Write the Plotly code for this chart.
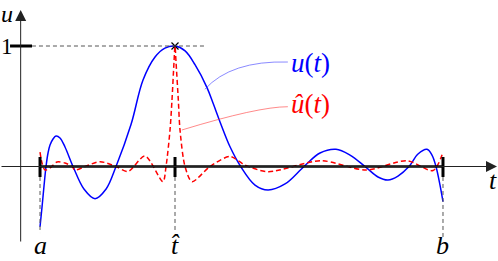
import plotly.graph_objects as go

# ---- data (t normalised so that a = 0, b = 1; u(t_hat) = 1) ----
A = 0.0
B = 1.0
T_HAT = 0.335
U_ONE = 1.0

t_u = [0.0, 0.005, 0.0099, 0.0149, 0.0199, 0.0248, 0.0323, 0.0397, 0.0496, 0.062,
       0.0819, 0.109, 0.1365, 0.164, 0.1886, 0.226, 0.2556, 0.2854, 0.310, 0.335,
       0.360, 0.3846, 0.4144, 0.43, 0.4467, 0.4715, 0.498, 0.5335, 0.5658, 0.608, 0.655,
       0.6948, 0.7345, 0.7692, 0.8065, 0.8387, 0.8635, 0.8883, 0.9156, 0.938, 0.9603,
       0.9727, 0.9826, 0.9926, 1.0]
u_vals = [-0.500, -0.336, -0.162, 0.0, 0.112, 0.178, 0.228, 0.253, 0.237, 0.162,
          0.0, -0.187, -0.267, -0.187, 0.0, 0.35, 0.718, 0.909, 0.983, 1.0,
          0.959, 0.845, 0.655, 0.52, 0.37, 0.164, 0.0, -0.154, -0.195, -0.145, 0.0,
          0.112, 0.143, 0.095, 0.0, -0.087, -0.112, -0.079, 0.0, 0.104, 0.143,
          0.095, 0.0, -0.154, -0.292]

t_uh = [0.0, 0.005, 0.0124, 0.0248, 0.0422, 0.062, 0.0794, 0.0868, 0.1117, 0.1489,
        0.1886, 0.2184, 0.2605, 0.305, 0.3127, 0.3226, 0.3275, 0.3325, 0.335, 0.3375,
        0.3432, 0.3474, 0.3598, 0.3772, 0.4218, 0.4715, 0.5087, 0.5658, 0.6973, 0.8089,
        0.9107, 0.9752, 1.0]
uh_vals = [0.120, 0.029, -0.029, -0.012, 0.037, 0.029, 0.0, -0.029, 0.0, 0.040,
           0.0, -0.041, 0.087, -0.126, 0.0, 0.303, 0.552, 0.867, 1.0, 0.867,
           0.552, 0.303, 0.0, -0.126, 0.0, 0.083, 0.012, -0.043, 0.048, -0.029,
           0.048, -0.033, 0.118]

W, H = 498, 261
X0, X1 = -0.0993, 1.1365
Y0, Y1 = -0.7842, 1.3817

SERIF = "Liberation Serif"
fig = go.Figure()

shapes = []
shapes.append(dict(type="line", x0=A, x1=B, y0=0, y1=0, line=dict(color="black", width=2.5)))
for tx, yb in [(A, -0.552), (T_HAT, -0.552), (B, -0.585)]:
    shapes.append(dict(type="line", x0=tx, x1=tx, y0=-0.087, y1=yb,
                       line=dict(color="#555", width=1, dash="4px,3px")))
    shapes.append(dict(type="line", x0=tx, x1=tx, y0=0.079, y1=-0.087,
                       line=dict(color="black", width=3)))
shapes.append(dict(type="line", x0=-0.02, x1=0.414, y0=U_ONE, y1=U_ONE,
                   line=dict(color="#555", width=1, dash="4px,3px")))
shapes.append(dict(type="line", x0=-0.0744, x1=-0.0199, y0=U_ONE, y1=U_ONE,
                   line=dict(color="black", width=3)))
shapes.append(dict(type="path", path="M 0.409,0.641 Q 0.474,0.880 0.615,0.867",
                   line=dict(color="rgba(60,60,255,0.6)", width=1)))
shapes.append(dict(type="path", path="M 0.352,0.303 Q 0.541,0.496 0.615,0.496",
                   line=dict(color="rgba(255,60,60,0.6)", width=1)))

fig.add_trace(go.Scatter(x=t_u, y=u_vals, mode="lines",
                         line=dict(color="#0000ff", width=1.5, shape="spline", smoothing=1.0),
                         hoverinfo="skip"))
fig.add_trace(go.Scatter(x=t_uh, y=uh_vals, mode="lines",
                         line=dict(color="#ff0000", width=1.5, dash="5px,3px",
                                   shape="spline", smoothing=0.8),
                         hoverinfo="skip"))
fig.add_trace(go.Scatter(x=[T_HAT], y=[U_ONE], mode="markers",
                         marker=dict(symbol="x-thin", size=7, line=dict(color="black", width=1.2)),
                         hoverinfo="skip"))

ann = []
ann.append(dict(x=1.134, y=0, ax=X0, ay=0, xref="x", yref="y", axref="x", ayref="y",
                showarrow=True, arrowhead=2, arrowsize=2.2, arrowwidth=1, arrowcolor="#222", text=""))
ann.append(dict(x=-0.048, y=1.299, ax=-0.048, ay=-0.635, xref="x", yref="y", axref="x", ayref="y",
                showarrow=True, arrowhead=2, arrowsize=2.2, arrowwidth=1, arrowcolor="#222", text=""))

def lab(x, y, s, color="black", size=26, xanchor="center", yanchor="middle"):
    ann.append(dict(x=x, y=y, xref="x", yref="y", text=s, showarrow=False,
                    xanchor=xanchor, yanchor=yanchor, borderpad=0,
                    font=dict(family=SERIF, size=size, color=color)))

lab(-0.0993, Y1, "<i>u</i>", xanchor="left", yanchor="top", size=24)
lab(X0, U_ONE, "1", xanchor="left", size=23)
lab(X1, -0.12, "<i>t</i>", xanchor="right")
lab(A, Y0, "<i>a</i>", yanchor="bottom")
lab(T_HAT, Y0, "<i>t&#770;</i>", yanchor="bottom")
lab(B, Y0, "<i>b</i>", yanchor="bottom")
lab(0.620, 0.855, "<i>u</i>(<i>t</i>)", color="#0000ff", xanchor="left", size=27)
lab(0.620, 0.515, "<i>&#251;</i>(<i>t</i>)", color="#ff0000", xanchor="left", size=27)

fig.update_layout(
    width=W, height=H, margin=dict(l=0, r=0, t=0, b=0),
    paper_bgcolor="white", plot_bgcolor="white", showlegend=False,
    font=dict(family=SERIF),
    xaxis=dict(range=[X0, X1], visible=False, fixedrange=True),
    yaxis=dict(range=[Y0, Y1], visible=False, fixedrange=True),
    shapes=shapes, annotations=ann,
)
fig.write_html("out.html", config={"displayModeBar": False, "staticPlot": True},
               post_script="document.body.style.margin='0';")
